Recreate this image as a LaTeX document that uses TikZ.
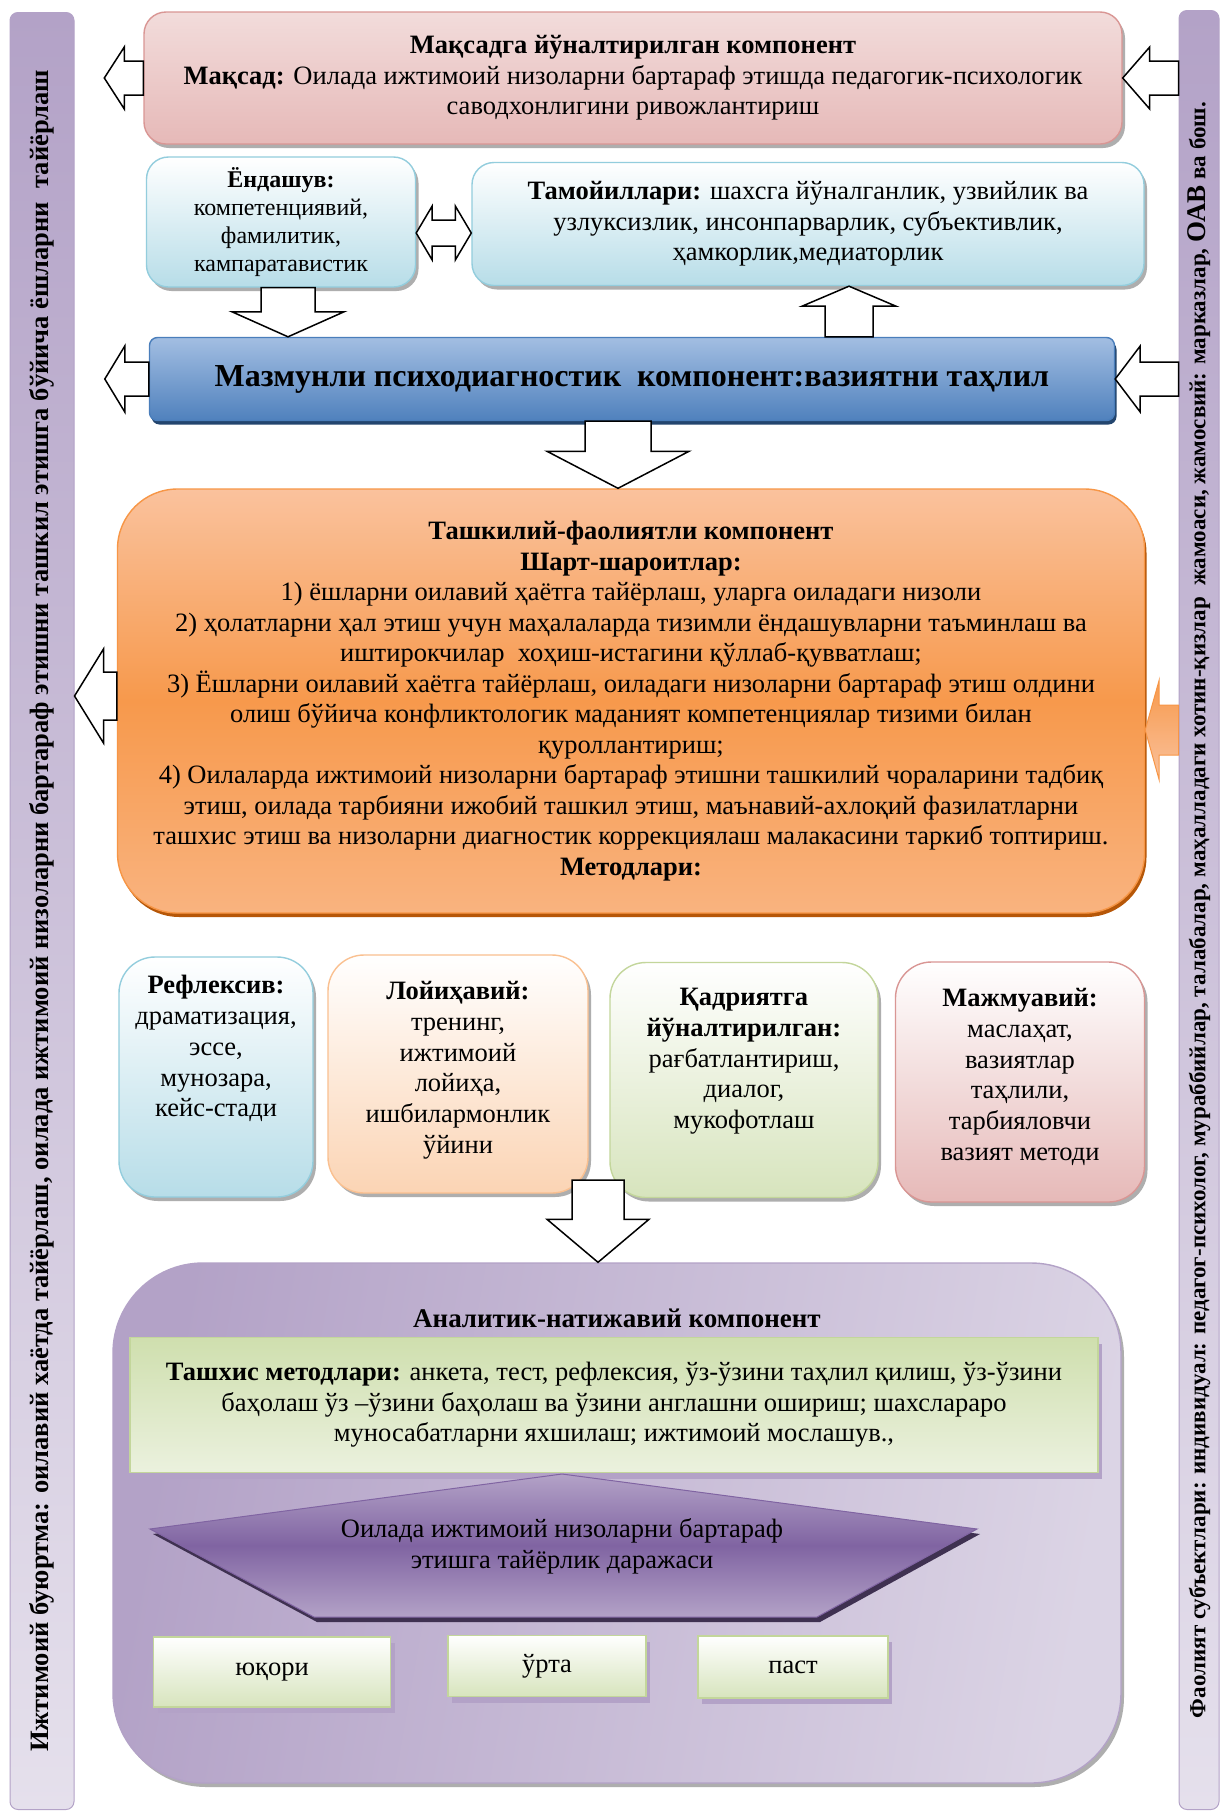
\documentclass[tikz,border=0pt]{standalone}
\usepackage{fontspec}
\setmainfont{Liberation Serif}
\usetikzlibrary{positioning,calc,shadows}

\definecolor{pinkline}{HTML}{D99694}
\definecolor{pinktop}{HTML}{F2DCDB}
\definecolor{pinkbot}{HTML}{E6B9B8}
\definecolor{blueline}{HTML}{93CDDD}
\definecolor{bluebot}{HTML}{B7DDE8}
\definecolor{barline}{HTML}{4A7EBB}
\definecolor{bartop}{HTML}{A3BEE2}
\definecolor{barbot}{HTML}{4F81BD}
\definecolor{barshadow}{HTML}{23456E}
\definecolor{orangeline}{HTML}{F79646}
\definecolor{orangetop}{HTML}{FAC29D}
\definecolor{orangemid}{HTML}{F7994C}
\definecolor{orangebot}{HTML}{F9B37F}
\definecolor{orangeshadow}{HTML}{B65708}
\definecolor{peachline}{HTML}{FAC090}
\definecolor{peachbot}{HTML}{FBD4B4}
\definecolor{greenline}{HTML}{C3D69B}
\definecolor{greentop}{HTML}{CFDFAE}
\definecolor{greenbot}{HTML}{D7E4BD}
\definecolor{greenpale}{HTML}{EBF1DE}
\definecolor{purpledark}{HTML}{B3A2C7}
\definecolor{purplelight}{HTML}{E5E0EC}
\definecolor{purplemid}{HTML}{8064A2}
\definecolor{purpledeep}{HTML}{3F3151}
\definecolor{shadowgray}{HTML}{9A9A9A}

% block arrow: [style]{start}{tip}{shaft half}{head half}{head length}
\newcommand{\blkarrow}[6][arrowbox]{%
  \coordinate (ba-s) at #2;
  \coordinate (ba-t) at #3;
  \coordinate (ba-n) at ($(ba-t)!#6!(ba-s)$);
  \path[#1] ($(ba-s)!#4!90:(ba-t)$) -- ($(ba-n)!#4!90:(ba-t)$)
    -- ($(ba-n)!#5!90:(ba-t)$) -- (ba-t) -- ($(ba-n)!#5!-90:(ba-t)$)
    -- ($(ba-n)!#4!-90:(ba-t)$) -- ($(ba-s)!#4!-90:(ba-t)$) -- cycle;}
% same with a head at both ends
\newcommand{\blkdarrow}[6][arrowbox]{%
  \coordinate (bd-a) at #2;
  \coordinate (bd-b) at #3;
  \coordinate (bd-na) at ($(bd-a)!#6!(bd-b)$);
  \coordinate (bd-nb) at ($(bd-b)!#6!(bd-a)$);
  \path[#1] (bd-a) -- ($(bd-na)!#5!90:(bd-b)$) -- ($(bd-na)!#4!90:(bd-b)$)
    -- ($(bd-nb)!#4!90:(bd-b)$) -- ($(bd-nb)!#5!90:(bd-b)$) -- (bd-b)
    -- ($(bd-nb)!#5!-90:(bd-b)$) -- ($(bd-nb)!#4!-90:(bd-b)$)
    -- ($(bd-na)!#4!-90:(bd-b)$) -- ($(bd-na)!#5!-90:(bd-b)$) -- cycle;}

\begin{document}
\begin{tikzpicture}[x=1pt,y=-1pt,
  box/.style={line width=1.4pt,align=center,inner sep=0pt,font=\fontsize{26.5}{30.5}\selectfont},
  txt/.style={align=center,inner sep=0pt,font=\fontsize{26.5}{30.8}\selectfont},
  grayshadow/.style={drop shadow={shadow xshift=3pt,shadow yshift=-4pt,fill=shadowgray,opacity=.8}},
  lilacshadow/.style={drop shadow={shadow xshift=4pt,shadow yshift=-6pt,fill=purpledark,opacity=1}},
  sidebar/.style={draw=purpledark,line width=1pt,rounded corners=8pt,rotate=90,
    top color=purpledark,bottom color=purplelight,inner sep=0pt},
  arrowbox/.style={draw=black,line width=1.5pt,fill=white},
  orangearrow/.style={draw=orangeline,line width=1pt,top color=orangemid,bottom color=orangetop},
  methbox/.style={box,rounded corners=36pt,grayshadow},
  levelbox/.style={box,draw=greenline,top color=white,bottom color=greenbot,lilacshadow}]

\fill[white] (0,0) rectangle (1224,1813);
\useasboundingbox (0,0) rectangle (1224,1813);

% side bars
\node[sidebar,minimum width=1797pt,minimum height=64pt,font=\bfseries\fontsize{26.5}{30}\selectfont] (lbar) at (42,911)
  {Ижтимоий буюртма: оилавий хаётда тайёрлаш, оилада ижтимоий низоларни бартараф этишни ташкил этишга бўйича ёшларни\ \ тайёрлаш};
\node[sidebar,minimum width=1799pt,minimum height=40pt,font=\bfseries\fontsize{23}{30}\selectfont] (rbar) at (1199,910)
  {Фаолият субъектлари: индивидуал: педагог-психолог, мураббийлар, талабалар, маҳалладаги хотин-қизлар\ \ жамоаси, жамосвий: марказлар, {\fontsize{27}{30}\selectfont ОАВ} ва бош.};

% goal
\node[box,draw=pinkline,top color=pinktop,bottom color=pinkbot,rounded corners=22pt,
  minimum width=978pt,minimum height=132pt,grayshadow] (goal) at (633,78)
  {\textbf{Мақсадга йўналтирилган компонент}\\
   \textbf{Мақсад:} Оилада ижтимоий низоларни бартараф этишда педагогик-психологик\\
   саводхонлигини ривожлантириш};

% approach and principles
\node[box,draw=blueline,top color=white,bottom color=bluebot,rounded corners=22pt,
  minimum width=269pt,minimum height=130pt,grayshadow,font=\fontsize{24}{28}\selectfont] (approach) at (281,222)
  {\textbf{Ёндашув:}\\компетенциявий,\\фамилитик,\\кампаратавистик};
\node[box,draw=blueline,top color=white,bottom color=bluebot,rounded corners=22pt,
  minimum width=672pt,minimum height=123pt,grayshadow] (principles) at (808,224)
  {\textbf{Тамойиллари:} шахсга йўналганлик, узвийлик ва\\
   узлуксизлик, инсонпарварлик, субъективлик,\\
   ҳамкорлик,медиаторлик};

% content
\node[box,draw=barline,top color=bartop,bottom color=barbot,rounded corners=8pt,
  minimum width=965pt,minimum height=83pt,font=\bfseries\fontsize{32}{36}\selectfont,
  drop shadow={shadow xshift=2pt,shadow yshift=-4pt,fill=barshadow,opacity=1}] (content) at (632,379)
  {Мазмунли психодиагностик\ \ компонент:вазиятни таҳлил};

% organisation
\node[box,draw=orangeline,top color=orangetop,bottom color=orangebot,middle color=orangemid,
  rounded corners=60pt,minimum width=1027pt,minimum height=424pt,
  drop shadow={shadow xshift=2pt,shadow yshift=-4pt,fill=orangeshadow,opacity=1}] (org) at (631,701)
  {\textbf{Ташкилий-фаолиятли компонент}\\
   \textbf{Шарт-шароитлар:}\\
   1) ёшларни оилавий ҳаётга тайёрлаш, уларга оиладаги низоли\\
   2) ҳолатларни ҳал этиш учун маҳалаларда тизимли ёндашувларни таъминлаш ва\\
   иштирокчилар\ \ хоҳиш-истагини қўллаб-қувватлаш;\\
   3) Ёшларни оилавий хаётга тайёрлаш, оиладаги низоларни бартараф этиш олдини\\
   олиш бўйича конфликтологик маданият компетенциялар тизими билан\\
   қуроллантириш;\\
   4) Оилаларда ижтимоий низоларни бартараф этишни ташкилий чораларини тадбиқ\\
   этиш, оилада тарбияни ижобий ташкил этиш, маънавий-ахлоқий фазилатларни\\
   ташхис этиш ва низоларни диагностик коррекциялаш малакасини таркиб топтириш.\\
   \textbf{Методлари:}};

% methods
\node[methbox,draw=blueline,top color=white,bottom color=bluebot,minimum width=194pt,minimum height=240pt] (refl) at (216,1077) {};
\node[txt,anchor=north] (refl-t) at (216,975) {\textbf{Рефлексив:}\\драматизация,\\эссе,\\мунозара,\\кейс-стади};
\node[methbox,draw=peachline,top color=white,bottom color=peachbot,minimum width=260pt,minimum height=238pt] (proj) at (458,1074) {};
\node[txt,anchor=north] (proj-t) at (458,981) {\textbf{Лойиҳавий:}\\тренинг,\\ижтимоий\\лойиҳа,\\ишбилармонлик\\ўйини};
\node[methbox,draw=greenline,top color=white,bottom color=greenbot,minimum width=268pt,minimum height=235pt] (value) at (744,1080) {};
\node[txt,anchor=north] (value-t) at (744,988) {\textbf{Қадриятга}\\\textbf{йўналтирилган:}\\рағбатлантириш,\\диалог,\\мукофотлаш};
\node[methbox,draw=pinkline,top color=white,bottom color=pinkbot,minimum width=249pt,minimum height=240pt] (complex) at (1020,1082) {};
\node[txt,anchor=north] (complex-t) at (1020,988) {\textbf{Мажмуавий:}\\маслаҳат,\\вазиятлар\\таҳлили,\\тарбияловчи\\вазият методи};

% result
\node[box,draw=purpledark,left color=purpledark,right color=purplelight!80!purpledark,shading angle=80,
  rounded corners=90pt,minimum width=1008pt,minimum height=520pt,grayshadow] (result) at (617,1523) {};
\node[txt,font=\bfseries\fontsize{27}{30}\selectfont] (result-t) at (617,1318) {Аналитик-натижавий компонент};
\node[box,draw=greenline,top color=greentop,bottom color=greenpale,
  minimum width=968pt,minimum height=135pt,lilacshadow] (diag) at (614,1405)
  {\textbf{Ташхис методлари:} анкета, тест, рефлексия, ўз-ўзини таҳлил қилиш, ўз-ўзини\\
   баҳолаш ўз –ўзини баҳолаш ва ўзини англашни ошириш; шахслараро\\
   муносабатларни яхшилаш; ижтимоий мослашув.,};
\coordinate (lv-top) at (562,1474);
\coordinate (lv-right) at (977,1529);
\coordinate (lv-br) at (817,1617);
\coordinate (lv-bl) at (314,1617);
\coordinate (lv-left) at (150,1529);
\path[draw=purplemid,line width=1pt,top color=purpledark,bottom color=purpledark,middle color=purplemid,
  drop shadow={shadow xshift=3pt,shadow yshift=-5pt,fill=purpledeep,opacity=1}]
  (lv-top) -- (lv-right) -- (lv-br) -- (lv-bl) -- (lv-left) -- cycle;
\node[txt] (level) at (562,1546) {Оилада ижтимоий низоларни бартараф\\этишга тайёрлик даражаси};
\node[levelbox,minimum width=237pt,minimum height=70pt] (high) at (272,1672) {юқори};
\node[levelbox,minimum width=198pt,minimum height=61pt] (mid) at (547,1666) {ўрта};
\node[levelbox,minimum width=190pt,minimum height=62pt] (low) at (793,1667) {паст};

% arrows
\blkarrow{(goal.west)}{($(goal.west)+(-39,0)$)}{17pt}{31pt}{20pt}
\blkarrow{(goal.east -| rbar.north)}{(goal.east)}{17pt}{31pt}{27pt}
\coordinate (ap1) at ([yshift=-11pt]approach.east);
\blkdarrow{(ap1)}{(ap1 -| principles.west)}{13pt}{27pt}{16pt}
\coordinate (ap2) at ([xshift=7pt]approach.south);
\blkarrow{(ap2)}{(ap2 |- content.north)}{27pt}{56pt}{25pt}
\coordinate (cu1) at ([xshift=217pt]content.north);
\blkarrow{(cu1)}{(cu1 |- principles.south)}{24pt}{47pt}{20pt}
\blkarrow{(content.west)}{($(content.west)+(-44,0)$)}{17pt}{33pt}{20pt}
\blkarrow{(content.east -| rbar.north)}{(content.east)}{17pt}{33pt}{25pt}
\coordinate (cd1) at ([xshift=-14pt]content.south);
\blkarrow{(cd1)}{(cd1 |- org.north)}{33pt}{71pt}{37pt}
\coordinate (ol1) at ([yshift=5pt]org.west);
\blkarrow{(ol1)}{(ol1 -| lbar.south)}{24pt}{47pt}{29pt}
\coordinate (or1) at ([yshift=-29pt]org.east);
\blkarrow[orangearrow]{(or1 -| rbar.north)}{(or1)}{25pt}{50pt}{14pt}
\coordinate (mfoot) at (598,1180);
\blkarrow{(mfoot)}{(mfoot |- result.north)}{26pt}{51pt}{43pt}
\end{tikzpicture}
\end{document}
